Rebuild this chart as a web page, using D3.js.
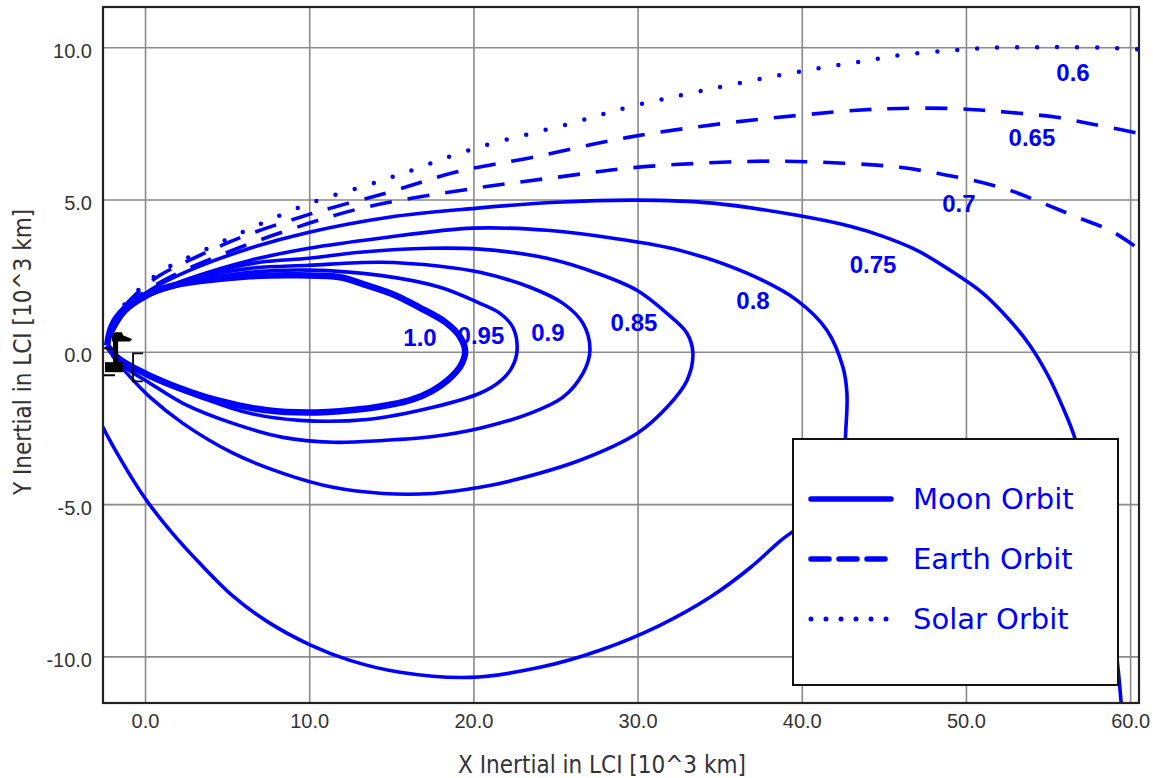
<!DOCTYPE html>
<html>
<head>
<meta charset="utf-8">
<script src="https://cdn.jsdelivr.net/npm/d3@7"></script>
<style>
  body { margin: 0; background: #fff; }
  svg { display: block; }
</style>
</head>
<body>
<div id="chart"></div>
<script>
// orbit traces, [x, y] in 10^3 km (LCI frame)
const orbit100 = [[-2.31,0.21],[-2.01,0.87],[-1.22,1.43],[-0.12,1.82],[1.52,2.15],[3.35,2.32],[6.39,2.48],[9.44,2.51],[11.88,2.45],[13.52,2.18],[15.23,1.86],[16.7,1.46],[18.3,0.97],[19.2,0.48],[19.5,0.0],[19.2,-0.48],[18.5,-0.90],[17.5,-1.28],[16.2,-1.58],[14.92,-1.74],[13.52,-1.86],[10.48,-1.99],[7.43,-1.92],[4.38,-1.59],[1.34,-1.03],[-0.73,-0.51],[-1.71,-0.18],[-2.31,0.21]];
const orbit095 = [[-2.25,0.38],[-1.22,1.30],[0.30,1.86],[3.35,2.35],[6.39,2.61],[9.99,2.68],[14.31,2.51],[17.97,2.12],[20.40,1.59],[21.62,1.26],[22.41,0.80],[22.66,0.05],[22.35,-0.51],[21.62,-0.97],[20.40,-1.36],[17.54,-1.82],[13.52,-2.22],[9.44,-2.25],[6.39,-2.02],[3.35,-1.49],[0.30,-0.84],[-1.10,-0.38],[-2.13,0.05]];
const orbit090 = [[-2.25,0.38],[-1.22,1.36],[0.30,1.89],[3.35,2.45],[6.39,2.74],[9.99,2.84],[14.31,2.94],[17.97,2.81],[20.40,2.61],[23.45,2.12],[25.46,1.59],[26.67,0.94],[27.10,0.05],[26.67,-0.71],[25.46,-1.49],[23.45,-2.02],[20.40,-2.51],[17.54,-2.78],[14.49,-2.91],[11.45,-2.97],[8.40,-2.81],[5.36,-2.35],[2.31,-1.69],[0.30,-1.03],[-1.10,-0.54],[-2.01,-0.02]];
const orbit085 = [[-2.25,0.38],[-1.04,1.43],[0.61,1.95],[3.35,2.51],[7.00,2.94],[9.99,3.07],[13.09,3.27],[17.36,3.40],[20.40,3.37],[24.48,3.07],[27.53,2.58],[29.96,2.02],[31.79,1.26],[33.01,0.61],[33.37,-0.05],[33.01,-0.94],[31.79,-1.82],[29.96,-2.68],[26.49,-3.56],[22.41,-4.22],[20.40,-4.45],[17.54,-4.65],[14.49,-4.65],[11.45,-4.45],[8.40,-3.99],[5.36,-3.33],[2.31,-2.35],[0.30,-1.49],[-1.10,-0.71],[-2.01,-0.11]];
const orbit080 = [[-2.25,0.38],[-1.22,1.30],[0.30,1.86],[2.74,2.41],[6.39,3.00],[9.99,3.40],[14.31,3.73],[19.98,4.06],[24.48,3.99],[28.50,3.73],[32.58,3.33],[36.66,2.58],[39.71,1.69],[41.53,0.71],[42.51,-0.51],[42.75,-1.36],[42.69,-2.48],[42.51,-3.56],[41.72,-4.71],[40.19,-5.60],[38.73,-6.19],[36.97,-7.04],[34.41,-8.06],[31.36,-8.98],[27.71,-9.80],[24.06,-10.36],[19.79,-10.69],[15.53,-10.52],[12.48,-10.13],[10.05,-9.62],[7.43,-8.85],[5.36,-8.02],[3.35,-6.95],[1.52,-5.86],[0.0,-4.81],[-1.52,-3.50],[-2.56,-2.48],[-3.05,-1.90]];
const orbit075 = [[-2.25,0.38],[-1.22,1.36],[0.30,2.02],[2.74,2.68],[6.39,3.40],[9.93,3.92],[14.86,4.42],[20.10,4.71],[25.09,4.91],[29.96,4.98],[34.59,4.88],[39.71,4.48],[42.94,4.12],[44.95,3.79],[47.02,3.33],[49.03,2.68],[51.04,1.92],[52.68,1.03],[53.90,0.21],[54.99,-0.77],[55.85,-1.76],[56.64,-2.84],[57.55,-4.88],[58.47,-7.50],[59.14,-9.80],[59.44,-11.44],[59.56,-12.43]];
const orbit070 = [[-2.25,0.38],[-1.52,1.20],[-0.30,1.86],[1.52,2.45],[4.57,3.17],[8.16,3.89],[13.15,4.71],[20.10,5.37],[25.09,5.73],[29.42,6.03],[33.80,6.19],[38.19,6.26],[42.57,6.19],[45.98,6.06],[48.23,5.86],[50.43,5.63],[52.68,5.30],[54.69,4.88],[56.76,4.42],[58.77,3.99],[60.41,3.43],[61.81,2.94]];
const orbit065 = [[-2.25,0.38],[-1.64,1.20],[-0.61,1.86],[0.91,2.51],[3.35,3.17],[5.85,3.76],[10.23,4.55],[14.86,5.24],[18.94,5.90],[23.63,6.39],[29.42,7.04],[35.26,7.50],[39.95,7.77],[43.36,7.93],[45.98,7.99],[49.03,7.99],[51.04,7.93],[53.29,7.83],[55.54,7.70],[57.73,7.47],[60.41,7.18],[61.81,6.98]];
const orbit060 = [[-2.25,0.38],[-1.83,1.10],[-0.91,1.76],[1.10,2.68],[3.35,3.27],[6.58,4.09],[10.05,4.88],[13.52,5.47],[15.71,5.86],[20.10,6.68],[25.94,7.50],[29.42,8.03],[34.10,8.59],[39.95,9.21],[43.73,9.54],[45.98,9.74],[48.60,9.87],[51.04,9.97],[53.71,10.0],[56.33,10.0],[59.20,9.97],[60.41,9.93],[61.81,9.90]];

const orbits = [orbit100, orbit095, orbit090, orbit085, orbit080, orbit075, orbit070, orbit065, orbit060];
const orbitTypes = ["Moon", "Moon", "Moon", "Moon", "Moon", "Moon", "Earth", "Earth", "Solar"];
const orbitLabels = ["1.0", "0.95", "0.9", "0.85", "0.8", "0.75", "0.7", "0.65", "0.6"];
const labelX = [16.75, 20.46, 24.54, 29.78, 37.03, 44.34, 49.57, 54.02, 56.52];
const labelY = [0.48, 0.54, 0.64, 0.97, 1.69, 2.87, 4.88, 7.04, 9.18];

// spacecraft / moon marker glyphs near the origin
const markerFills = [
  [[-2.01,0.54],[-1.83,0.64],[-1.40,0.64],[-1.34,0.54],[-0.79,0.42],[-0.91,0.34],[-1.64,0.34],[-1.64,-0.61],[-1.95,-0.61],[-1.95,0.34],[-2.01,0.34]],
  [[-2.44,-0.34],[-1.34,-0.34],[-1.34,-0.67],[-2.44,-0.67]]
];
const markerOutlines = [
  [[-1.83,0.11],[-2.56,0.11],[-2.56,-0.77],[-1.83,-0.77]],
  [[-0.12,-0.05],[-0.73,-0.05],[-0.73,-0.97],[-0.12,-0.97]]
];

const xTicks = [0, 10, 20, 30, 40, 50, 60];
const yTicks = [-10, -5, 0, 5, 10];
const legendNames = ["Moon Orbit", "Earth Orbit", "Solar Orbit"];

const width = 1153, height = 778;
const plotLeft = 103, plotTop = 7, plotRight = 1139, plotBottom = 703;
const blue = "#0000ff";

const svg = d3.select("#chart").append("svg")
  .attr("width", width)
  .attr("height", height);

const x = d3.scaleLinear().domain([-2.56, 60.54]).range([plotLeft, plotRight]);
const y = d3.scaleLinear().domain([-11.53, 11.32]).range([plotBottom, plotTop]);

const fmt = function (v) { return v.toFixed(1); };

// grid + tick labels
const gx = svg.append("g")
  .attr("transform", "translate(0," + plotBottom + ")")
  .call(d3.axisBottom(x).tickValues(xTicks).tickSize(-(plotBottom - plotTop)).tickPadding(11).tickFormat(fmt));
const gy = svg.append("g")
  .attr("transform", "translate(" + plotLeft + ",0)")
  .call(d3.axisLeft(y).tickValues(yTicks).tickSize(-(plotRight - plotLeft)).tickPadding(11).tickFormat(fmt));

[gx, gy].forEach(function (g) {
  g.select(".domain").remove();
  g.selectAll(".tick line").attr("stroke", "#8a8a8a").attr("stroke-width", 1.6);
  g.selectAll(".tick text")
    .attr("fill", "#333")
    .style("font-family", "'Liberation Sans', Arial, sans-serif")
    .style("font-size", "20px");
});
gy.selectAll(".tick text").attr("dy", "0.5em");

svg.append("clipPath").attr("id", "plot-clip")
  .append("rect")
  .attr("x", plotLeft).attr("y", plotTop)
  .attr("width", plotRight - plotLeft).attr("height", plotBottom - plotTop);

const line = d3.line()
  .x(function (d) { return x(d[0]); })
  .y(function (d) { return y(d[1]); })
  .curve(d3.curveCatmullRom.alpha(0.5));

const curves = svg.append("g").attr("clip-path", "url(#plot-clip)");

curves.selectAll("path.orbit")
  .data(orbits)
  .enter()
  .append("path")
  .attr("class", "orbit")
  .attr("d", line)
  .attr("fill", "none")
  .attr("stroke", blue)
  .attr("stroke-width", function (d, i) {
    if (i == 0) return 6.5;
    return orbitTypes[i] == "Solar" ? 4.5 : 3.6;
  })
  .attr("stroke-linecap", function (d, i) { return orbitTypes[i] == "Solar" ? "round" : "butt"; })
  .attr("stroke-dasharray", function (d, i) {
    if (orbitTypes[i] == "Earth") return "22,16";
    if (orbitTypes[i] == "Solar") return "0,20";
    return null;
  });

// black markers at the moon
const poly = d3.line()
  .x(function (d) { return x(d[0]); })
  .y(function (d) { return y(d[1]); });

curves.selectAll("path.mfill")
  .data(markerFills)
  .enter()
  .append("path")
  .attr("class", "mfill")
  .attr("d", function (d) { return poly(d) + "Z"; })
  .attr("fill", "#000");

curves.selectAll("path.mline")
  .data(markerOutlines)
  .enter()
  .append("path")
  .attr("class", "mline")
  .attr("d", poly)
  .attr("fill", "none")
  .attr("stroke", "#000")
  .attr("stroke-width", 1.8);

// orbit labels
svg.append("g")
  .selectAll("text")
  .data(orbitLabels)
  .enter()
  .append("text")
  .attr("x", function (d, i) { return x(labelX[i]); })
  .attr("y", function (d, i) { return y(labelY[i]); })
  .attr("dy", "0.36em")
  .attr("text-anchor", "middle")
  .attr("fill", blue)
  .style("font-family", "'Liberation Sans', Arial, sans-serif")
  .style("font-weight", "bold")
  .style("font-size", "24px")
  .text(function (d) { return d; });

// legend
const legend = svg.append("g");
legend.append("rect")
  .attr("x", 793).attr("y", 439)
  .attr("width", 325).attr("height", 246)
  .attr("fill", "#fff")
  .attr("stroke", "#111")
  .attr("stroke-width", 2);

const legendRows = legend.selectAll("g.row")
  .data(legendNames)
  .enter()
  .append("g")
  .attr("class", "row")
  .attr("transform", function (d, i) { return "translate(0," + (499 + i * 60) + ")"; });

legendRows.append("line")
  .attr("x1", 811).attr("x2", 891)
  .attr("y1", 0).attr("y2", 0)
  .attr("stroke", blue)
  .attr("stroke-width", function (d, i) { return i == 2 ? 5 : 5.5; })
  .attr("stroke-linecap", "round")
  .attr("stroke-dasharray", function (d, i) {
    if (i == 1) return "18,10";
    if (i == 2) return "0,15";
    return null;
  });

legendRows.append("text")
  .attr("x", 913)
  .attr("y", 0)
  .attr("dy", "0.36em")
  .attr("fill", blue)
  .style("font-family", "'DejaVu Sans', Verdana, sans-serif")
  .style("font-size", "29px")
  .text(function (d) { return d; });

// frame
svg.append("rect")
  .attr("x", plotLeft).attr("y", plotTop)
  .attr("width", plotRight - plotLeft).attr("height", plotBottom - plotTop)
  .attr("fill", "none")
  .attr("stroke", "#222")
  .attr("stroke-width", 2.2);

// axis titles
svg.append("text")
  .attr("x", 602).attr("y", 773)
  .attr("text-anchor", "middle")
  .attr("fill", "#333")
  .style("font-family", "'DejaVu Sans Condensed', 'DejaVu Sans', sans-serif")
  .style("font-stretch", "condensed")
  .style("font-size", "24px")
  .text("X Inertial in LCI [10^3 km]");

svg.append("text")
  .attr("transform", "translate(31,352) rotate(-90)")
  .attr("text-anchor", "middle")
  .attr("fill", "#333")
  .style("font-family", "'DejaVu Sans Condensed', 'DejaVu Sans', sans-serif")
  .style("font-stretch", "condensed")
  .style("font-size", "24px")
  .text("Y Inertial in LCI [10^3 km]");
</script>
</body>
</html>
